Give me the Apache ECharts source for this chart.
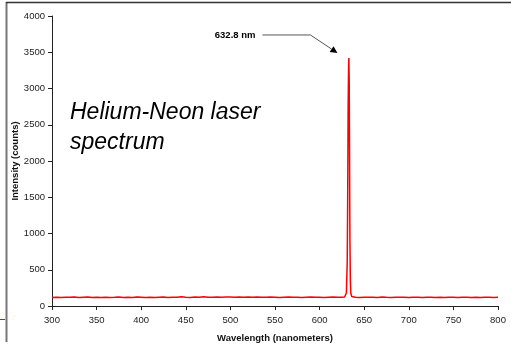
<!DOCTYPE html>
<html>
<head>
<meta charset="utf-8">
<script src="https://cdn.jsdelivr.net/npm/echarts@6/dist/echarts.min.js"></script>
<style>
html,body{margin:0;padding:0;background:#fff;}
#c{width:511px;height:347px;}
</style>
</head>
<body>
<div id="c"></div>
<script>
var wavelengths = [300,305,310,315,320,325,330,335,340,345,350,355,360,365,370,375,380,385,390,395,
400,405,410,415,420,425,430,435,440,445,450,455,460,465,470,475,480,485,490,495,
500,505,510,515,520,525,530,535,540,545,550,555,560,565,570,575,580,585,590,595,
600,605,610,615,620,625,628,629,630,631,631.5,632,632.5,632.8,633.2,633.6,634,634.5,635,636,637,
640,645,650,655,660,665,670,675,680,685,690,695,700,705,710,715,720,725,730,735,740,745,750,755,760,765,770,775,780,785,790,795,800];
var intensities = [118,121,116,122,119,124,117,120,123,116,121,118,122,117,120,124,118,121,116,123,
120,117,122,118,121,124,117,122,120,126,121,118,123,120,127,122,119,124,121,123,
125,121,124,120,123,119,124,122,119,123,121,118,122,124,119,122,118,121,123,119,
122,118,121,123,119,122,124,138,180,620,1500,2750,3320,3420,3100,2000,900,340,175,132,122,
121,118,122,119,121,117,123,120,118,122,119,121,117,120,122,118,121,119,117,121,118,120,122,117,119,121,118,120,117,119,121,118,120];
var xTicks = [300,350,400,450,500,550,600,650,700,750,800];
var yTicks = [0,500,1000,1500,2000,2500,3000,3500,4000];
var titleLines = ['Helium-Neon laser', 'spectrum'];
var peakLabel = '632.8 nm';
var arrowTip = [620, 3490];
var xName = 'Wavelength (nanometers)';
var yName = 'Intensity (counts)';

var seriesData = wavelengths.map(function(w, i){ return [w, intensities[i]]; });
var chart = echarts.init(document.getElementById('c'));
var axisStyle = {lineStyle:{color:'#222', width:1}};
var font = 'Liberation Sans, Arial, sans-serif';
var plain = function(v){ return String(v); };
chart.setOption({
  animation:false,
  backgroundColor:'#fff',
  grid:{left:52, right:13, top:16, bottom:41, containLabel:false, outerBoundsMode:'none'},
  xAxis:{type:'value', min:xTicks[0], max:xTicks[xTicks.length-1], interval:50,
    axisLine:axisStyle, axisTick:{show:true, inside:false, length:4, lineStyle:{color:'#222'}},
    splitLine:{show:false},
    axisLabel:{color:'#222', fontSize:9.5, fontFamily:font, margin:9, formatter:plain},
    name:xName, nameLocation:'middle', nameGap:27, nameMoveOverlap:false,
    nameTextStyle:{fontWeight:'bold', fontSize:9.5, color:'#111', fontFamily:font}},
  yAxis:{type:'value', min:yTicks[0], max:yTicks[yTicks.length-1], interval:500,
    axisLine:{show:true, lineStyle:{color:'#222', width:1}}, axisTick:{show:true, inside:false, length:4, lineStyle:{color:'#222'}},
    splitLine:{show:false},
    axisLabel:{color:'#222', fontSize:9.5, fontFamily:font, margin:7, formatter:plain},
    name:yName, nameLocation:'middle', nameGap:32, nameRotate:90, nameMoveOverlap:false,
    nameTextStyle:{fontWeight:'bold', fontSize:9.5, color:'#111', fontFamily:font}},
  series:[{type:'line', data:seriesData, showSymbol:false, symbol:'none',
    lineStyle:{color:'#ff0000', width:1.5}, itemStyle:{color:'#ff0000'}}]
});

var tip = chart.convertToPixel({gridIndex:0}, arrowTip);
var tx = tip[0], ty = tip[1];
var elbow = [tx - 27, ty - 18];
var start = [elbow[0] - 48, elbow[1]];
var ang = Math.atan2(ty - elbow[1], tx - elbow[0]);
var hl = 7, hw = 3.5;
var bx = tx - hl*Math.cos(ang), by = ty - hl*Math.sin(ang);
var px = -Math.sin(ang)*hw, py = Math.cos(ang)*hw;

chart.setOption({graphic:[
  {type:'text', left:70, top:98, style:{text:titleLines.join('\n'), font:'italic 23px ' + font, fill:'#000', lineHeight:30}},
  {type:'text', x:start[0]-7, y:elbow[1], style:{text:peakLabel, font:'bold 9.5px ' + font, fill:'#000', textAlign:'right', textVerticalAlign:'middle'}},
  {type:'polyline', shape:{points:[start, elbow, [bx,by]]}, style:{stroke:'#555', lineWidth:1, fill:null}},
  {type:'polygon', shape:{points:[[tx,ty],[bx+px,by+py],[bx-px,by-py]]}, style:{fill:'#000'}},
  {type:'line', shape:{x1:6.5, y1:2, x2:6.5, y2:342}, style:{stroke:'#777', lineWidth:2}},
  {type:'line', shape:{x1:6, y1:2.5, x2:511, y2:2.5}, style:{stroke:'#333', lineWidth:1.5}},
  {type:'line', shape:{x1:0, y1:319.5, x2:5, y2:319.5}, style:{stroke:'#ff0000', lineWidth:1}}
]});
</script>
</body>
</html>
